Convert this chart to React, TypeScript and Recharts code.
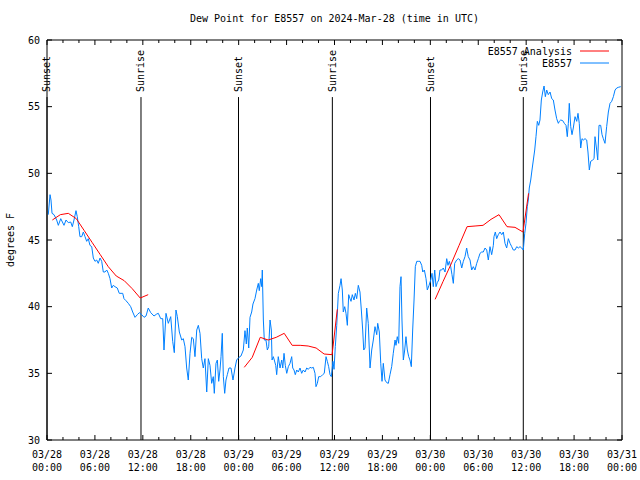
import { LineChart, Line, XAxis, YAxis, ReferenceLine, ReferenceDot } from "recharts";

const FONT = "'DejaVu Sans Mono', 'Liberation Mono', monospace";

// hours since 03/28 00:00 UTC, dew point in F
const observedDay1: [number, number][] = [
  [0.16, 46.9], [0.38, 48.4], [0.5, 48.0], [0.63, 47.0], [0.88, 46.9], [1.21, 46.5], [1.42, 46.1], [1.72, 46.6],
  [2.13, 46.1], [2.38, 46.5], [2.67, 46.3], [2.97, 46.35], [3.17, 46.0], [3.38, 46.5], [3.63, 47.2], [3.79, 46.75],
  [3.97, 46.0], [4.13, 45.25], [4.35, 45.25], [4.55, 45.6], [4.76, 45.25], [4.97, 44.9], [5.17, 45.1], [5.38, 44.6],
  [5.6, 44.5], [5.8, 43.65], [6.01, 43.4], [6.22, 43.5], [6.42, 43.25], [6.64, 43.65], [6.85, 43.4], [7.05, 42.6],
  [7.26, 42.6], [7.48, 42.75], [7.68, 42.5], [7.89, 42.1], [8.1, 41.4], [8.3, 41.6], [8.51, 41.5], [8.8, 41.4],
  [9.05, 41.0], [9.48, 41.0], [9.64, 40.6], [9.89, 40.45], [10.18, 40.25], [10.48, 40.0], [10.73, 39.6], [11.02, 39.2],
  [11.31, 39.4], [11.56, 39.55], [11.86, 39.4], [12.15, 39.2], [12.4, 39.3], [12.68, 39.9], [12.99, 39.55], [13.4, 39.3],
  [13.74, 39.45], [13.94, 39.5], [14.24, 39.1], [14.49, 39.1], [14.65, 36.75], [14.9, 39.5], [15.19, 38.75], [15.49, 39.25],
  [15.74, 37.4], [15.94, 36.55], [16.15, 39.75], [16.32, 39.25], [16.57, 38.1], [16.87, 37.5], [17.07, 37.6], [17.28, 37.0],
  [17.49, 35.4], [17.69, 34.5], [17.91, 36.5], [18.12, 37.7], [18.32, 37.6], [18.53, 36.25], [18.75, 38.25], [18.95, 38.6],
  [19.16, 38.0], [19.37, 36.1], [19.57, 35.4], [19.78, 36.1], [20.0, 33.6], [20.2, 36.1], [20.41, 35.6], [20.62, 34.25],
  [20.82, 34.75], [20.95, 33.5], [21.16, 35.75], [21.33, 36.0], [21.5, 34.4], [21.66, 35.25], [21.79, 36.25], [21.95, 38.0],
  [22.08, 34.75], [22.25, 33.5], [22.41, 34.5], [22.58, 34.9], [22.79, 35.4], [23.04, 35.4], [23.29, 34.5], [23.54, 35.4],
  [23.75, 36.0],
];

const observedDay2: [number, number][] = [
  [24.04, 36.2], [24.29, 36.3], [24.58, 36.75], [24.79, 38.2], [24.96, 37.2], [25.08, 38.4], [25.26, 36.9], [25.42, 39.2],
  [25.63, 39.6], [25.79, 40.2], [26.04, 40.6], [26.26, 41.25], [26.46, 41.75], [26.58, 41.2], [26.76, 42.1], [26.89, 41.5],
  [26.96, 42.75], [27.09, 39.0], [27.21, 37.5], [27.42, 37.5], [27.59, 36.75], [27.76, 37.0], [27.93, 39.0], [28.09, 38.25],
  [28.18, 36.0], [28.34, 36.25], [28.46, 36.0], [28.64, 35.6], [28.76, 34.9], [28.96, 36.25], [29.18, 35.4], [29.39, 36.0],
  [29.52, 35.4], [29.68, 36.5], [29.84, 35.6], [30.02, 35.0], [30.22, 35.5], [30.43, 35.75], [30.64, 36.25], [30.77, 35.4],
  [30.93, 35.25], [31.09, 34.9], [31.27, 35.25], [31.47, 35.1], [31.68, 35.4], [31.89, 35.0], [32.09, 35.25], [32.31, 35.1],
  [32.52, 35.4], [32.72, 35.3], [32.93, 35.45], [33.15, 35.4], [33.35, 35.45], [33.56, 35.0], [33.68, 34.0], [33.85, 34.25],
  [34.02, 34.75], [34.27, 34.75], [34.52, 34.9], [34.72, 35.0], [34.94, 36.25], [35.1, 35.9], [35.27, 35.5], [35.44, 34.9],
  [35.6, 34.75], [35.81, 35.9], [35.94, 35.3], [36.1, 37.0], [36.28, 38.6], [36.48, 41.0], [36.69, 41.6], [36.82, 42.1],
  [36.98, 41.25], [37.1, 39.6], [37.28, 40.0], [37.44, 39.5], [37.61, 38.6], [37.78, 40.9], [37.94, 40.6], [38.07, 40.4],
  [38.23, 40.9], [38.44, 40.5], [38.61, 41.0], [38.78, 40.6], [38.98, 41.6], [39.19, 41.1], [39.36, 39.75], [39.53, 38.25],
  [39.66, 36.75], [39.82, 36.9], [40.03, 39.9], [40.23, 38.75], [40.45, 35.4], [40.66, 36.75], [40.86, 37.5], [41.07, 38.5],
  [41.29, 37.9], [41.41, 38.75], [41.61, 38.1], [41.79, 35.75], [41.95, 34.4], [42.11, 35.75], [42.32, 34.5], [42.54, 34.3],
  [42.74, 34.25], [42.95, 34.9], [43.16, 35.5], [43.36, 36.5], [43.58, 37.5], [43.7, 37.1], [43.86, 37.75], [44.04, 37.25],
  [44.2, 41.5], [44.33, 42.25], [44.45, 39.0], [44.62, 36.0], [44.79, 36.75], [44.95, 37.75], [45.12, 36.75], [45.29, 36.25],
  [45.45, 36.0], [45.62, 35.5], [45.79, 38.25], [45.96, 40.5], [46.12, 43.0], [46.3, 43.4], [46.55, 43.4], [46.71, 43.4],
  [46.92, 43.1], [47.05, 42.6], [47.25, 42.75], [47.46, 42.1], [47.62, 41.25], [47.84, 41.6],
];

const observedDay3: [number, number][] = [
  [48.05, 42.0], [48.21, 42.5], [48.37, 41.5], [48.55, 42.75], [48.71, 41.5], [48.87, 41.8], [49.05, 42.0], [49.21, 42.75],
  [49.42, 42.75], [49.62, 42.9], [49.84, 42.6], [50.05, 43.6], [50.21, 43.1], [50.38, 43.4], [50.55, 43.0], [50.71, 42.4],
  [50.88, 41.75], [51.05, 43.25], [51.3, 43.5], [51.5, 43.6], [51.72, 43.5], [51.93, 42.9], [52.13, 43.4], [52.34, 43.75],
  [52.55, 44.4], [52.75, 43.75], [52.97, 43.5], [53.18, 42.75], [53.38, 43.0], [53.59, 42.75], [53.81, 43.25], [54.01, 43.6],
  [54.22, 44.0], [54.43, 44.1], [54.63, 44.1], [54.85, 44.4], [55.06, 44.25], [55.26, 43.5], [55.47, 44.5], [55.68, 43.9],
  [55.89, 44.6], [55.97, 45.25], [56.14, 45.6], [56.31, 45.1], [56.51, 45.4], [56.73, 45.6], [56.94, 45.4], [57.14, 45.6],
  [57.35, 44.75], [57.56, 44.4], [57.77, 45.1], [57.98, 44.75], [58.19, 44.5], [58.39, 44.25], [58.6, 44.25], [58.82, 44.5],
  [59.02, 44.4], [59.23, 44.5], [59.44, 44.4], [59.64, 44.25], [59.82, 45.5], [59.98, 46.25], [60.14, 47.5], [60.27, 48.0],
  [60.39, 48.9], [60.57, 49.5], [60.73, 50.25], [60.9, 51.0], [61.07, 51.75], [61.23, 52.75], [61.4, 53.9], [61.57, 53.6],
  [61.73, 54.0], [61.9, 55.5], [62.07, 56.1], [62.24, 56.55], [62.4, 55.75], [62.57, 56.25], [62.77, 55.9], [62.99, 56.1],
  [63.2, 55.6], [63.4, 55.5], [63.61, 54.75], [63.82, 54.1], [64.03, 53.75], [64.15, 53.9], [64.33, 54.0], [64.58, 53.95],
  [64.78, 53.75], [64.99, 53.6], [65.15, 52.75], [65.28, 53.75], [65.4, 55.25], [65.58, 53.5], [65.74, 52.9], [65.9, 53.4],
  [66.12, 54.25], [66.33, 53.9], [66.49, 54.5], [66.65, 53.75], [66.83, 51.9], [66.99, 52.6], [67.16, 52.5], [67.37, 52.6],
  [67.58, 52.5], [67.74, 51.6], [67.91, 50.25], [68.08, 50.9], [68.33, 51.0], [68.5, 51.1], [68.62, 52.75], [68.83, 51.75],
  [68.96, 51.0], [69.12, 53.6], [69.33, 53.6], [69.5, 52.9], [69.66, 52.6], [69.87, 52.25], [70.08, 53.5], [70.29, 54.6],
  [70.5, 55.25], [70.71, 55.4], [70.92, 55.75], [71.13, 56.25], [71.34, 56.4], [71.54, 56.45], [71.84, 56.5],
];

// analysis runs, each one a separate piece of the red line
const analysisRun1: [number, number][] = [
  [0.67, 46.5], [1.67, 46.9], [2.67, 47.0], [3.67, 46.6], [4.67, 45.7], [5.67, 44.8], [6.67, 43.9],
  [7.67, 43.0], [8.67, 42.3], [9.67, 41.95], [10.67, 41.35], [11.67, 40.65], [12.67, 40.9],
];
const analysisRun2: [number, number][] = [
  [24.7, 35.45], [25.7, 36.2], [26.7, 37.7], [27.7, 37.5], [28.7, 37.7], [29.7, 38.0], [30.7, 37.1],
  [31.7, 37.1], [32.7, 37.05], [33.7, 36.9], [34.7, 36.45], [35.7, 36.4], [36.35, 39.8],
];
const analysisRun3: [number, number][] = [
  [48.6, 40.55], [49.6, 41.9], [50.6, 43.2], [51.6, 44.6], [52.6, 46.0], [53.6, 46.05], [54.6, 46.1],
  [55.6, 46.55], [56.6, 46.9], [57.6, 46.0], [58.6, 45.95], [59.6, 45.6], [60.3, 48.5],
];

const sunEvents: [string, number][] = [
  ["Sunset", 0.0], ["Sunrise", 11.77], ["Sunset", 23.98], ["Sunrise", 35.73], ["Sunset", 48.02], ["Sunrise", 59.64],
];

const hourTicks = [0, 2, 4, 6, 8, 10, 12, 14, 16, 18, 20, 22, 24, 26, 28, 30, 32, 34, 36, 38, 40, 42, 44, 46, 48, 50, 52, 54, 56, 58, 60, 62, 64, 66, 68, 70, 72];
const tickDates = ["03/28", "03/28", "03/28", "03/28", "03/29", "03/29", "03/29", "03/29", "03/30", "03/30", "03/30", "03/30", "03/31"];
const tickTimes = ["00:00", "06:00", "12:00", "18:00", "00:00", "06:00", "12:00", "18:00", "00:00", "06:00", "12:00", "18:00", "00:00"];
const yTicks = [30, 35, 40, 45, 50, 55, 60];

const toPoints = (rows: [number, number][]) => rows.map(([t, v]) => ({ t, v }));
const observed = toPoints([...observedDay1, ...observedDay2, ...observedDay3]);
const gap = (t: number) => ({ t, v: null });
const analysis = [
  ...toPoints(analysisRun1), gap(13),
  ...toPoints(analysisRun2), gap(37),
  ...toPoints(analysisRun3),
];

const BottomTick = (props: any) => {
  const { x, y, payload } = props;
  const h = payload.value;
  const major = h % 6 === 0;
  const i = h / 6;
  return (
    <g>
      <line x1={x} x2={x} y1={y} y2={y - (major ? 5 : 3)} stroke="#000" />
      {major && (
        <text x={x} y={y} textAnchor="middle" fontFamily={FONT} fontSize={10} fill="#000">
          <tspan x={x} dy={18}>{tickDates[i]}</tspan>
          <tspan x={x} dy={13}>{tickTimes[i]}</tspan>
        </text>
      )}
    </g>
  );
};

const TopTick = (props: any) => {
  const { x, y, payload } = props;
  const major = payload.value % 6 === 0;
  return <line x1={x} x2={x} y1={y} y2={y + (major ? 5 : 3)} stroke="#000" />;
};

const LeftTick = (props: any) => {
  const { x, y, payload } = props;
  return (
    <g>
      <line x1={x} x2={x + 5} y1={y} y2={y} stroke="#000" />
      <text x={x - 7} y={y} dy={3.5} textAnchor="end" fontFamily={FONT} fontSize={10} fill="#000">
        {payload.value}
      </text>
    </g>
  );
};

const RightTick = (props: any) => {
  const { x, y } = props;
  return <line x1={x} x2={x - 5} y1={y} y2={y} stroke="#000" />;
};

const SunLabel = (text: string) => (props: any) => {
  const { cx, cy } = props;
  const ty = cy - 5;
  return (
    <text
      x={cx}
      y={ty}
      dy="0.35em"
      transform={`rotate(-90 ${cx} ${ty})`}
      textAnchor="start"
      fontFamily={FONT}
      fontSize={10}
      fill="#000"
    >
      {text}
    </text>
  );
};

const SUN_LINE_TOP = 55.72;

export default function App() {
  return (
    <div style={{ position: "absolute", left: 0, top: 0, width: 640, height: 480, background: "#fff" }}>
      <div
        style={{
          position: "absolute",
          left: 47,
          width: 575,
          top: 13,
          textAlign: "center",
          fontFamily: FONT,
          fontSize: 10,
          color: "#000",
        }}
      >
        Dew Point for E8557 on 2024-Mar-28 (time in UTC)
      </div>
      <LineChart width={640} height={480} margin={{ top: 39, right: 17, left: 0, bottom: 0 }}>
        <XAxis
          dataKey="t"
          type="number"
          domain={[0, 72]}
          ticks={hourTicks}
          interval={0}
          height={40}
          tickSize={0}
          tickMargin={0}
          tickLine={false}
          tick={<BottomTick />}
          axisLine={{ stroke: "#000" }}
          allowDataOverflow
        />
        <XAxis
          xAxisId="top"
          dataKey="t"
          orientation="top"
          height={1}
          type="number"
          domain={[0, 72]}
          ticks={hourTicks}
          interval={0}
          tickSize={0}
          tickMargin={0}
          tickLine={false}
          tick={<TopTick />}
          axisLine={{ stroke: "#000" }}
          allowDataOverflow
        />
        <YAxis
          type="number"
          domain={[30, 60]}
          ticks={yTicks}
          interval={0}
          width={47}
          tickSize={0}
          tickMargin={0}
          tickLine={false}
          tick={<LeftTick />}
          axisLine={{ stroke: "#000" }}
          allowDataOverflow
          label={{
            value: "degrees F",
            angle: -90,
            position: "insideLeft",
            offset: 10,
            style: { fontFamily: FONT, fontSize: 10, fill: "#000", textAnchor: "middle" },
          }}
        />
        <YAxis
          yAxisId="right"
          orientation="right"
          width={1}
          type="number"
          domain={[30, 60]}
          ticks={yTicks}
          interval={0}
          tickSize={0}
          tickMargin={0}
          tickLine={false}
          tick={<RightTick />}
          axisLine={{ stroke: "#000" }}
          allowDataOverflow
        />
        {sunEvents.map(([name, h], i) => (
          <ReferenceLine
            key={`l${i}`}
            segment={[{ x: h, y: 30 }, { x: h, y: SUN_LINE_TOP }]}
            stroke="#000"
            strokeWidth={1}
          />
        ))}
        {sunEvents.map(([name, h], i) => (
          <ReferenceDot key={`d${i}`} x={h} y={SUN_LINE_TOP} r={0} shape={SunLabel(name)} />
        ))}
        <Line
          data={observed}
          dataKey="v"
          name="E8557"
          type="linear"
          stroke="#0080ff"
          strokeWidth={1}
          dot={false}
          activeDot={false}
          isAnimationActive={false}
        />
        <Line
          data={analysis}
          dataKey="v"
          name="E8557 Analysis"
          type="linear"
          stroke="#ff0000"
          strokeWidth={1}
          dot={false}
          activeDot={false}
          connectNulls={false}
          isAnimationActive={false}
        />
        <Line
          xAxisId="top"
          yAxisId="right"
          data={observed}
          dataKey="v"
          stroke="none"
          dot={false}
          activeDot={false}
          legendType="none"
          isAnimationActive={false}
        />
      </LineChart>
      <svg
        width={160}
        height={30}
        style={{ position: "absolute", left: 460, top: 44, pointerEvents: "none" }}
      >
        <text x={112} y={7} dy={3.5} textAnchor="end" fontFamily={FONT} fontSize={10} fill="#000">
          E8557 Analysis
        </text>
        <line x1={120} x2={149} y1={7} y2={7} stroke="#ff0000" />
        <text x={112} y={19} dy={3.5} textAnchor="end" fontFamily={FONT} fontSize={10} fill="#000">
          E8557
        </text>
        <line x1={120} x2={149} y1={19} y2={19} stroke="#0080ff" />
      </svg>
    </div>
  );
}
